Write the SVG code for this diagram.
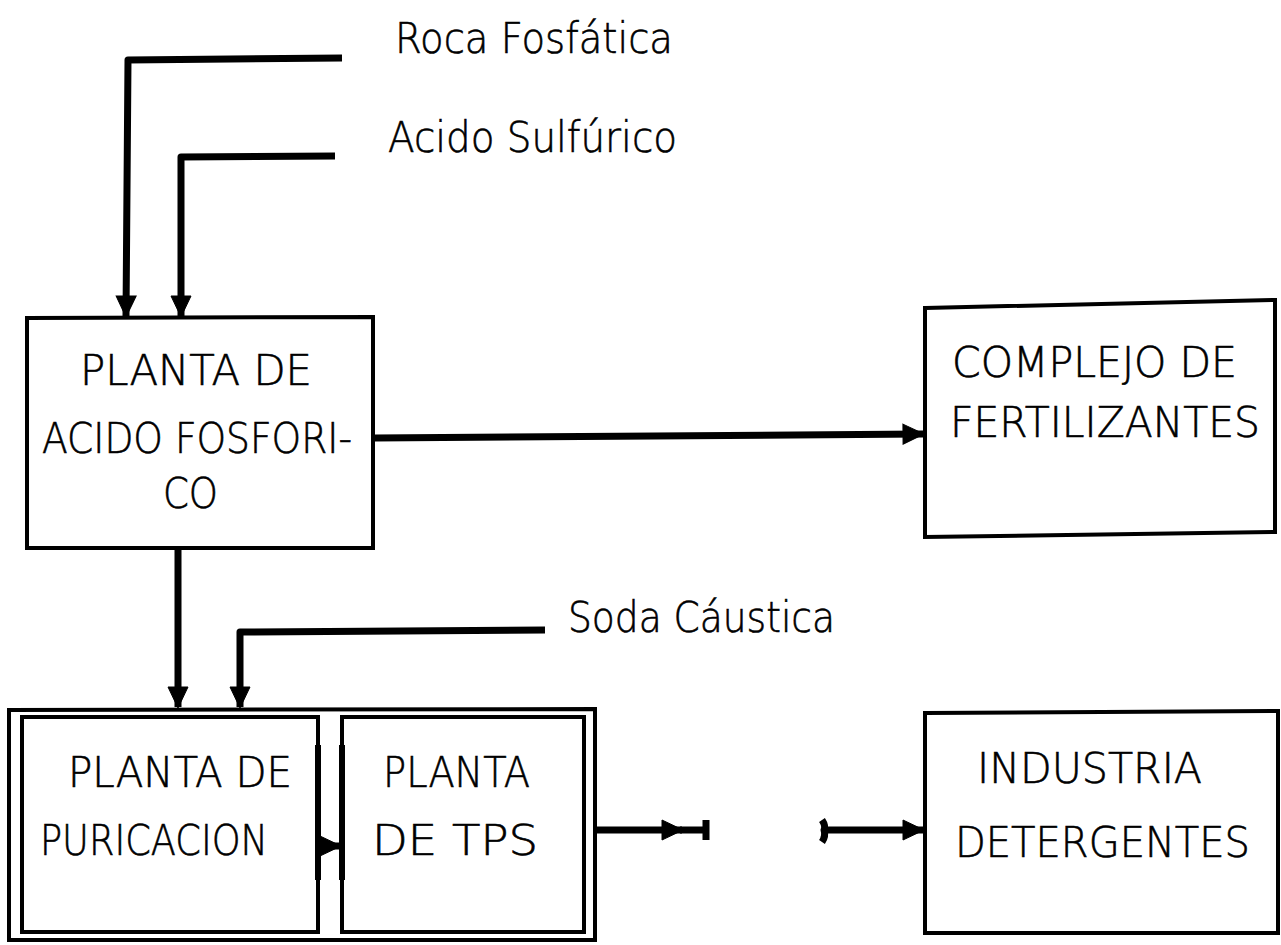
<svg xmlns="http://www.w3.org/2000/svg" width="1281" height="945" viewBox="0 0 1281 945">
<style>
.box{fill:none;stroke:#000;stroke-width:4}
.con{fill:none;stroke:#000;stroke-width:7;stroke-linejoin:round}
.lbl{font-family:"DejaVu Sans","Liberation Sans",sans-serif;font-weight:200;font-size:42px;fill:#000;stroke:#000;stroke-width:0.6}
.nt{font-family:"DejaVu Sans","Liberation Sans",sans-serif;font-weight:200;font-size:42px;fill:#000;stroke:#000;stroke-width:0.6}
</style>
<defs>
<marker id="ah" markerUnits="userSpaceOnUse" markerWidth="24" markerHeight="24" viewBox="0 0 24 24" refX="22" refY="12" orient="auto" overflow="visible">
<path d="M2,2 L23,12 L2,22 Z" fill="#000" stroke="#000" stroke-width="1"/>
</marker>
</defs>
<rect width="1281" height="945" fill="#fff"/>

<g id="connectors">
<path class="con" d="M342,58 L128,60 L126,316" marker-end="url(#ah)"/>
<path class="con" d="M335,156 L181,157 L181,316" marker-end="url(#ah)"/>
<path class="con" d="M375,438 L923,434" stroke-width="5" marker-end="url(#ah)"/>
<path class="con" d="M178,550 L178,707" stroke-width="8" marker-end="url(#ah)"/>
<path class="con" d="M545,630 L240,632 L240,707" stroke-width="9" marker-end="url(#ah)"/>
<path class="con" d="M316,846 L340,846" stroke-width="6" marker-end="url(#ah)"/>
<path class="con" d="M595,830 L682,830" stroke-width="5" marker-end="url(#ah)"/>
<path class="con" d="M680,830 L706,830 M706,820 L706,840" stroke-width="5"/>
<path class="con" d="M822,820 Q826,826 824,830 Q826,836 822,842 M824,830 L923,830" stroke-width="5" marker-end="url(#ah)"/>
<path d="M318,745 L318,880 M342,745 L342,880" stroke="#000" stroke-width="6" fill="none"/>
</g>

<g id="label-roca"><text class="lbl" x="395" y="53" textLength="278" lengthAdjust="spacingAndGlyphs">Roca Fosfática</text></g>
<g id="label-acido"><text class="lbl" x="388" y="152" textLength="289" lengthAdjust="spacingAndGlyphs">Acido Sulfúrico</text></g>
<g id="label-soda"><text class="lbl" x="568" y="632" textLength="267" lengthAdjust="spacingAndGlyphs">Soda Cáustica</text></g>

<g id="node-acido-fosforico">
<path class="box" d="M27,318 L373,317 L373,548 L27,548 Z"/>
<text class="nt" x="80" y="385" textLength="232" lengthAdjust="spacingAndGlyphs">PLANTA DE</text>
<text class="nt" x="42" y="453" textLength="310" lengthAdjust="spacingAndGlyphs">ACIDO FOSFORI-</text>
<text class="nt" x="163" y="508" textLength="55" lengthAdjust="spacingAndGlyphs">CO</text>
</g>

<g id="node-fertilizantes">
<path class="box" d="M925,308 L1275,300 L1275,532 L925,537 Z"/>
<text class="nt" x="952" y="377" textLength="285" lengthAdjust="spacingAndGlyphs">COMPLEJO DE</text>
<text class="nt" x="950" y="437" textLength="310" lengthAdjust="spacingAndGlyphs">FERTILIZANTES</text>
</g>

<g id="node-planta-grupo">
<path class="box" d="M9,710 L595,709 L595,940 L9,940 Z"/>
</g>
<g id="node-purificacion">
<path class="box" d="M22,717 L318,717 L318,932 L22,932 Z"/>
<text class="nt" x="68" y="787" textLength="224" lengthAdjust="spacingAndGlyphs">PLANTA DE</text>
<text class="nt" x="40" y="855" textLength="228" lengthAdjust="spacingAndGlyphs">PURICACION</text>
</g>
<g id="node-tps">
<path class="box" d="M342,717 L584,717 L584,932 L342,932 Z"/>
<text class="nt" x="383" y="787" textLength="147" lengthAdjust="spacingAndGlyphs">PLANTA</text>
<text class="nt" x="372" y="855" textLength="166" lengthAdjust="spacingAndGlyphs">DE TPS</text>
</g>

<g id="node-detergentes">
<path class="box" d="M925,713 L1278,711 L1278,933 L925,933 Z"/>
<text class="nt" x="977" y="783" textLength="225" lengthAdjust="spacingAndGlyphs">INDUSTRIA</text>
<text class="nt" x="955" y="857" textLength="295" lengthAdjust="spacingAndGlyphs">DETERGENTES</text>
</g>
</svg>
